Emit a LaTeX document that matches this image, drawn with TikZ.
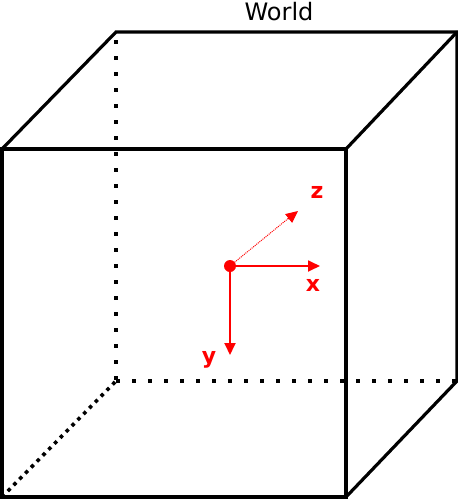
\documentclass[tikz,border=0pt]{standalone}
\usepackage{fontspec}
\setmainfont{DejaVu Sans}
\usetikzlibrary{arrows.meta}
\begin{document}
\begin{tikzpicture}[x=1pt,y=-1pt,
  edge/.style={line width=3.2pt,line cap=round,line join=miter},
  hidden/.style={line width=3.6pt,line cap=butt,dash pattern=on 3.6pt off 12.4pt},
  hiddiag/.style={line width=3.6pt,line cap=butt,dash pattern=on 3.6pt off 4.7pt},
  axis/.style={red,line width=1.8pt,-{Triangle[length=12pt,width=11pt]}},
  axlab/.style={red,font=\fontsize{22}{22}\selectfont\bfseries},
]
\useasboundingbox (0,0) rectangle (458,499);
% corners
\coordinate (f1) at (2,149);
\coordinate (f2) at (346,149);
\coordinate (f3) at (346,497);
\coordinate (f4) at (2,497);
\coordinate (b1) at (116,32);
\coordinate (b2) at (457,32);
\coordinate (b3) at (457,381);
\coordinate (b4) at (116,381);
% hidden edges
\draw[hidden] (b1) ++(0,8) -- (b4);
\draw[hidden] (b4) -- (b3);
\draw[hiddiag] (f4) -- (b4);
% visible edges
\draw[edge] (f1) -- (f2) -- (f3) -- (f4) -- cycle;
\draw[edge] (f1) -- (b1) -- (b2) -- (b3) -- (f3);
\draw[edge] (b2) -- (f2);
% axes
\node[circle,fill=red,inner sep=0pt,minimum size=12pt] (o) at (230,266) {};
\coordinate (xe) at (320,266);
\coordinate (ye) at (230,355);
\coordinate (ze) at (298,211);
\draw[axis] (o.center) -- (xe);
\draw[axis] (o.center) -- (ye);
\draw[red,line width=1pt,densely dotted] (o.center) -- (290,217);
\draw[red,line width=1pt,-{Triangle[length=12pt,width=11pt]}] (288,219) -- (ze);
\node[axlab] (zl) at (317,192) {z};
\node[axlab] (xl) at (313,285) {x};
\node[axlab] (yl) at (209,360) {y};
\node[font=\fontsize{24}{24}\selectfont] (w) at (279,12) {World};
\end{tikzpicture}
\end{document}
